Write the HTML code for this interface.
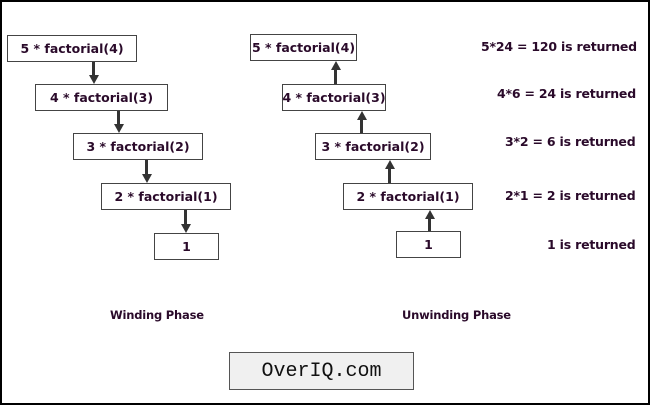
<!DOCTYPE html>
<html><head><meta charset="utf-8"><style>
body{margin:0;width:650px;height:405px;overflow:hidden;background:#fff}
#c{position:absolute;left:0;top:0;width:646px;height:401px;border:2px solid #000;background:#fff}
.b{position:absolute;border:1px solid #444;background:#fff;box-sizing:border-box;font:bold 12.5px "DejaVu Sans",sans-serif;color:#2a0a2a;display:flex;align-items:center;justify-content:center;white-space:nowrap}
.t{position:absolute;font:bold 12.5px "DejaVu Sans",sans-serif;color:#2a0a2a;white-space:nowrap;letter-spacing:-0.2px}
.a{position:absolute;width:3px;background:#333}
.hd{position:absolute;width:0;height:0;border-left:5px solid transparent;border-right:5px solid transparent}
</style></head><body>
<div id="c"></div>
<div id="d"></div>
<script>
const leftBoxes=[[7,35,130,"5 * factorial(4)"],[35,84,133,"4 * factorial(3)"],[73,133,130,"3 * factorial(2)"],[101,183,130,"2 * factorial(1)"],[154,233,65,"1"]];
const rightBoxes=[[250,34,107,"5 * factorial(4)"],[282,84,104,"4 * factorial(3)"],[315,133,116,"3 * factorial(2)"],[343,183,130,"2 * factorial(1)"],[396,231,65,"1"]];
const leftArrows=[[92,62,84],[117,111,133],[145,160,183],[184,210,233]];
const rightArrows=[[334,61,84],[360,111,133],[388,160,183],[428,210,231]];
const notes=[[481,39,"5*24 = 120 is returned"],[497,86,"4*6 = 24 is returned"],[505,134,"3*2 = 6 is returned"],[505,188,"2*1 = 2 is returned"],[547,237,"1 is returned"]];
const d=document.getElementById('d');
function box(b,side,i){const e=document.createElement('div');e.className='b';


e.style.cssText=`left:${b[0]}px;top:${b[1]}px;width:${b[2]}px;height:27px`;e.textContent=b[3];d.appendChild(e);}
leftBoxes.forEach((b,i)=>box(b,'winding',i));
rightBoxes.forEach((b,i)=>box(b,'unwinding',i));
function arrow(a,up,i){const e=document.createElement('div');e.className='a';


e.style.cssText=`left:${a[0]}px;top:${a[1]+(up?8:0)}px;height:${a[2]-a[1]-8}px`;d.appendChild(e);
const h=document.createElement('div');h.className='hd';


if(up)h.style.cssText=`left:${a[0]-3.5}px;top:${a[1]}px;border-bottom:9px solid #333`;
else h.style.cssText=`left:${a[0]-3.5}px;top:${a[2]-9}px;border-top:9px solid #333`;
d.appendChild(h);}
leftArrows.forEach((a,i)=>arrow(a,false,i));
rightArrows.forEach((a,i)=>arrow(a,true,i));
notes.forEach((n,i)=>{const e=document.createElement('div');e.className='t';


e.style.cssText=`left:${n[0]}px;top:${n[1]}px`;e.textContent=n[2];d.appendChild(e);});
</script>
<div class="t" style="left:110px;top:308px;font-size:11.5px">Winding Phase</div>
<div class="t" style="left:402px;top:308px;font-size:11.5px">Unwinding Phase</div>
<div style="position:absolute;left:229px;top:352px;width:185px;height:38px;box-sizing:border-box;border:1px solid #555;background:#f0f0f0;font:20px 'Liberation Mono',monospace;color:#111;display:flex;align-items:center;justify-content:center">OverIQ.com</div>
</body></html>
